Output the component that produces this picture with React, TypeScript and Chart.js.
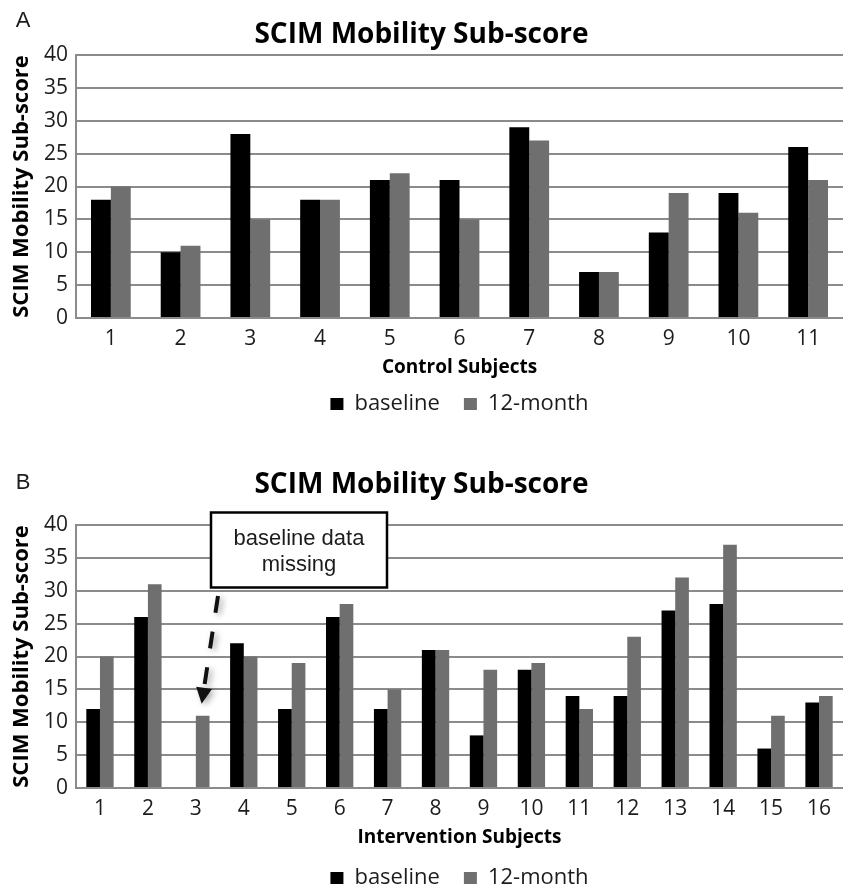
import { useEffect, useRef } from "react";
import { Chart, registerables } from "chart.js";

Chart.register(...registerables);

// ---- data -------------------------------------------------------------
const seriesLabels = ["baseline", "12-month"];
const chartTitle = "SCIM Mobility Sub-score";
const valueAxisTitle = "SCIM Mobility Sub-score";

const controlSubjects = ["1", "2", "3", "4", "5", "6", "7", "8", "9", "10", "11"];
const controlBaseline = [18, 10, 28, 18, 21, 21, 29, 7, 13, 19, 26];
const controlTwelveMonth = [20, 11, 15, 18, 22, 15, 27, 7, 19, 16, 21];

const interventionSubjects = ["1", "2", "3", "4", "5", "6", "7", "8", "9", "10", "11", "12", "13", "14", "15", "16"];
const interventionBaseline = [12, 26, null, 22, 12, 26, 12, 21, 8, 18, 14, 14, 27, 28, 6, 13];
const interventionTwelveMonth = [20, 31, 11, 20, 19, 28, 15, 21, 18, 19, 12, 23, 32, 37, 11, 14];

const yMin = 0;
const yMax = 40;
const yStep = 5;

const noteLines = ["baseline data", "missing"];
const missingSubjectIndex = 2;

// ---- styling ----------------------------------------------------------
const BASE_FONT = "'Open Sans', 'DejaVu Sans', sans-serif";
const NOTE_FONT = "'Liberation Sans', Arial, sans-serif";
const BLACK = "#000000";
const GREY = "#6f6f6f";
const GRID = "#8b8b8b";
const INK = "#1c1c1c";

type PanelSpec = {
  letter: string;
  letterY: number;
  labels: string[];
  baseline: (number | null)[];
  followUp: number[];
  xTitle: string;
  height: number;
  titleTop: number;
  titleBottom: number;
  xAxisHeight: number;
  xTitleBottom: number;
  bottomPad: number;
  withNote?: boolean;
};

const panels: PanelSpec[] = [
  {
    letter: "A",
    letterY: 21,
    labels: controlSubjects,
    baseline: controlBaseline,
    followUp: controlTwelveMonth,
    xTitle: "Control Subjects",
    height: 444,
    titleTop: 18,
    titleBottom: 3.4,
    xAxisHeight: 51,
    xTitleBottom: -10.4,
    bottomPad: 19,
  },
  {
    letter: "B",
    letterY: 39,
    labels: interventionSubjects,
    baseline: interventionBaseline,
    followUp: interventionTwelveMonth,
    xTitle: "Intervention Subjects",
    height: 460,
    titleTop: 24,
    titleBottom: 23.4,
    xAxisHeight: 55,
    xTitleBottom: -6.4,
    bottomPad: 5,
    withNote: true,
  },
];

// Panel letter in the top-left corner
const panelLetter = (spec: PanelSpec) => ({
  id: "panelLetter",
  afterDraw(chart: Chart) {
    const { ctx } = chart;
    ctx.save();
    ctx.fillStyle = INK;
    ctx.font = `22px ${NOTE_FONT}`;
    ctx.textAlign = "center";
    ctx.textBaseline = "middle";
    ctx.fillText(spec.letter, 23, spec.letterY);
    ctx.restore();
  },
});

// Call-out box with a dashed arrow pointing at the subject without a baseline value
const missingNote = {
  id: "missingNote",
  afterDraw(chart: Chart) {
    const { ctx, chartArea } = chart;
    const boxX = chartArea.left + 135;
    const boxY = chartArea.top - 12.5;
    const boxW = 176;
    const boxH = 75;

    ctx.save();
    ctx.fillStyle = "#ffffff";
    ctx.fillRect(boxX, boxY, boxW, boxH);
    ctx.strokeStyle = BLACK;
    ctx.lineWidth = 2.5;
    ctx.strokeRect(boxX, boxY, boxW, boxH);

    ctx.fillStyle = INK;
    ctx.font = `22px ${NOTE_FONT}`;
    ctx.textAlign = "center";
    ctx.textBaseline = "middle";
    ctx.fillText(noteLines[0], boxX + boxW / 2, boxY + 26);
    ctx.fillText(noteLines[1], boxX + boxW / 2, boxY + 52);

    const bar: any = chart.getDatasetMeta(1).data[missingSubjectIndex];
    const tipX = bar.x - 1;
    const tipY = bar.y - 12;
    const startX = chartArea.left + 142;
    const startY = chartArea.top + 71;
    const dx = tipX - startX;
    const dy = tipY - startY;
    const len = Math.hypot(dx, dy);
    const ux = dx / len;
    const uy = dy / len;
    const headLen = 16;
    const headHalf = 8;
    const baseX = tipX - ux * headLen;
    const baseY = tipY - uy * headLen;

    ctx.shadowColor = "rgba(0,0,0,0.35)";
    ctx.shadowBlur = 6;
    ctx.shadowOffsetX = 3;
    ctx.shadowOffsetY = 2;
    ctx.strokeStyle = "#111111";
    ctx.lineWidth = 4;
    ctx.setLineDash([17, 19]);
    ctx.beginPath();
    ctx.moveTo(startX, startY);
    ctx.lineTo(baseX + ux * 2, baseY + uy * 2);
    ctx.stroke();
    ctx.setLineDash([]);

    ctx.fillStyle = "#111111";
    ctx.beginPath();
    ctx.moveTo(tipX, tipY);
    ctx.lineTo(baseX - uy * headHalf, baseY + ux * headHalf);
    ctx.lineTo(baseX + uy * headHalf, baseY - ux * headHalf);
    ctx.closePath();
    ctx.fill();
    ctx.restore();
  },
};

function Panel({ spec, top }: { spec: PanelSpec; top: number }) {
  const canvasRef = useRef<HTMLCanvasElement | null>(null);

  useEffect(() => {
    const canvas = canvasRef.current;
    if (!canvas) return;
    const plugins: any[] = [panelLetter(spec)];
    if (spec.withNote) plugins.push(missingNote);

    const chart = new Chart(canvas, {
      type: "bar",
      data: {
        labels: spec.labels,
        datasets: [
          {
            label: seriesLabels[0],
            data: spec.baseline,
            backgroundColor: BLACK,
            borderWidth: 0,
            categoryPercentage: 0.57,
            barPercentage: 1,
          },
          {
            label: seriesLabels[1],
            data: spec.followUp,
            backgroundColor: GREY,
            borderWidth: 0,
            categoryPercentage: 0.57,
            barPercentage: 1,
          },
        ],
      },
      options: {
        animation: false,
        responsive: false,
        devicePixelRatio: 1,
        layout: { padding: { left: 0, right: 0, top: 0, bottom: spec.bottomPad } },
        plugins: {
          title: {
            display: true,
            text: chartTitle,
            color: BLACK,
            font: { family: BASE_FONT, size: 28, weight: "bold" },
            padding: { top: spec.titleTop, bottom: spec.titleBottom },
          },
          legend: {
            position: "bottom",
            fullSize: false,
            labels: {
              boxWidth: 13,
              boxHeight: 12,
              padding: 24,
              color: INK,
              font: { family: BASE_FONT, size: 22 },
            },
          },
          tooltip: { enabled: false },
        },
        scales: {
          x: {
            grid: { display: false, drawTicks: false },
            border: { display: true, color: GRID, width: 2 },
            ticks: {
              autoSkip: false,
              maxRotation: 0,
              color: INK,
              padding: 8,
              font: { family: BASE_FONT, size: 21 },
            },
            title: {
              display: true,
              text: spec.xTitle,
              color: BLACK,
              font: { family: BASE_FONT, size: 19, weight: "bold" },
              padding: { top: 4, bottom: spec.xTitleBottom },
            },
            afterFit: (scale: any) => {
              scale.height = spec.xAxisHeight;
            },
          },
          y: {
            min: yMin,
            max: yMax,
            grid: { color: GRID, lineWidth: 2, drawTicks: false },
            border: { display: true, color: GRID, width: 2 },
            ticks: {
              stepSize: yStep,
              color: INK,
              padding: 8,
              font: { family: BASE_FONT, size: 21 },
            },
            title: {
              display: true,
              text: valueAxisTitle,
              color: BLACK,
              font: { family: BASE_FONT, size: 22, weight: "bold" },
              padding: { top: 9, bottom: 0 },
            },
            afterFit: (scale: any) => {
              scale.width = 76;
            },
          },
        },
      },
      plugins,
    });
    return () => chart.destroy();
  }, [spec]);

  return (
    <canvas
      ref={canvasRef}
      width={843}
      height={spec.height}
      style={{ position: "absolute", left: 0, top, display: "block", width: 843, height: spec.height }}
    />
  );
}

export default function App() {
  return (
    <div
      style={{
        position: "fixed",
        left: 0,
        top: 0,
        width: 843,
        height: 888,
        overflow: "hidden",
        background: "#ffffff",
      }}
    >
      <Panel spec={panels[0]} top={0} />
      <Panel spec={panels[1]} top={444} />
    </div>
  );
}
